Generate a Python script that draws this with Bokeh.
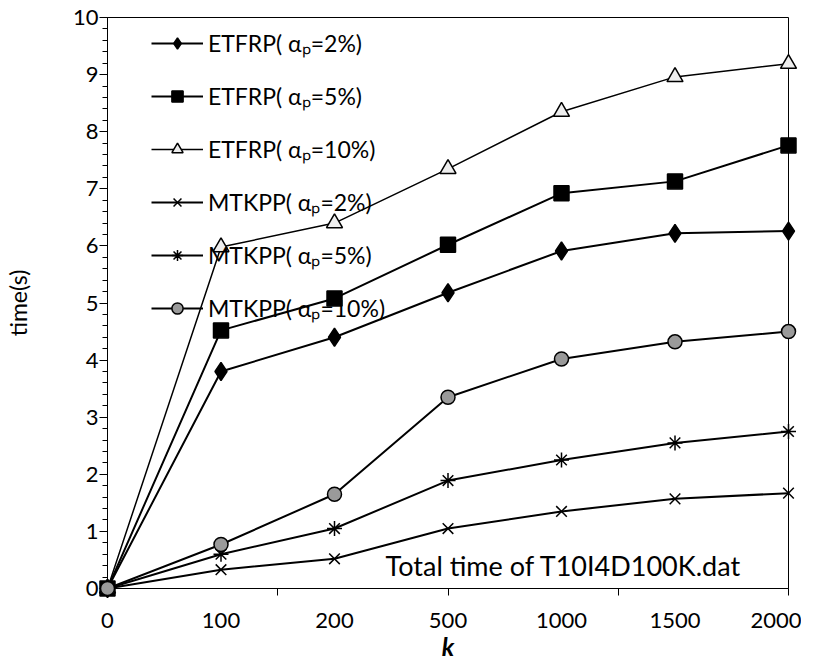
from bokeh.plotting import figure
from bokeh.models import Range1d, FixedTicker, Legend, LegendItem, Label
from bokeh.embed import file_html
from bokeh.resources import INLINE

# ---- data ----
k_labels = ["0", "100", "200", "500", "1000", "1500", "2000"]
etfrp_2 = [0, 3.80, 4.40, 5.18, 5.91, 6.22, 6.26]
etfrp_5 = [0, 4.52, 5.08, 6.02, 6.92, 7.13, 7.76]
etfrp_10 = [0, 5.98, 6.40, 7.35, 8.35, 8.96, 9.19]
mtkpp_2 = [0, 0.33, 0.52, 1.05, 1.35, 1.57, 1.67]
mtkpp_5 = [0, 0.60, 1.05, 1.89, 2.25, 2.55, 2.75]
mtkpp_10 = [0, 0.77, 1.65, 3.35, 4.02, 4.32, 4.50]
series_names = ["ETFRP( \u03b1\u209a=2%)", "ETFRP( \u03b1\u209a=5%)", "ETFRP( \u03b1\u209a=10%)",
                "MTKPP( \u03b1\u209a=2%)", "MTKPP( \u03b1\u209a=5%)", "MTKPP( \u03b1\u209a=10%)"]
y_ticks = list(range(0, 11))

x = list(range(len(k_labels)))
FONT = "Lato"

p = figure(width=801, height=663, output_backend="svg", toolbar_location=None,
           x_range=Range1d(x[0], x[-1]), y_range=Range1d(0, 10),
           min_border_left=101, min_border_right=13, min_border_top=17, min_border_bottom=75)
p.background_fill_color = "white"
p.border_fill_color = "white"
p.outline_line_color = "black"
p.outline_line_width = 1
p.xgrid.grid_line_color = None
p.ygrid.grid_line_color = None

styles = [
    dict(marker="diamond", size=18, fill_color="black", lw=2.0),
    dict(marker="square", size=15, fill_color="black", lw=2.0),
    dict(marker="triangle", size=16, fill_color="#eeeeee", lw=1.5),
    dict(marker="x", size=15, fill_color="black", lw=2.0),
    dict(marker="asterisk", size=15, fill_color="black", lw=2.0),
    dict(marker="circle", size=14, fill_color="#9a9a9a", lw=2.0),
]
data = [etfrp_2, etfrp_5, etfrp_10, mtkpp_2, mtkpp_5, mtkpp_10]

items = []
for name, vals, st in zip(series_names, data, styles):
    ln = p.line(x, vals, line_color="black", line_width=st["lw"])
    sc = p.scatter(x, vals, marker=st["marker"], size=st["size"],
                   fill_color=st["fill_color"], line_color="black", line_width=1.5)
    sc.level = "overlay"
    items.append(LegendItem(label=name, renderers=[ln, sc]))

legend = Legend(items=items, location=(44, 264), border_line_color=None,
                background_fill_alpha=0, padding=0, margin=0,
                glyph_width=52, glyph_height=28, label_height=28, spacing=21,
                label_standoff=5, label_text_font=FONT, label_text_font_size="23px",
                label_text_color="black")
p.add_layout(legend)

p.add_layout(Label(x=2.45, y=0.40, text="Total time of T10I4D100K.dat",
                   text_font=FONT, text_font_size="27px", text_color="black",
                   text_baseline="alphabetic"))

# x axis
xa = p.xaxis[0]
xa.ticker = FixedTicker(ticks=x, minor_ticks=[0, 1.5, 3, 4.5, 6])
xa.major_label_overrides = {i: lbl for i, lbl in zip(x, k_labels)}
xa.major_tick_line_color = None
xa.major_tick_out = 0
xa.minor_tick_in = 0
xa.minor_tick_out = 7
xa.minor_tick_line_color = "black"
xa.major_label_standoff = 17
xa.major_label_text_font = FONT
xa.major_label_text_font_size = "22px"
xa.major_label_text_color = "black"
xa.axis_line_color = "black"
xa.axis_label = "k"
xa.axis_label_text_font = FONT
xa.axis_label_text_font_size = "25px"
xa.axis_label_text_font_style = "bold italic"
xa.axis_label_text_color = "black"
xa.axis_label_standoff = 0

ya = p.yaxis[0]
ya.ticker = FixedTicker(ticks=y_ticks, minor_ticks=[i / 5 for i in range(0, 51)])
ya.major_tick_in = 0
ya.major_tick_out = 8
ya.minor_tick_in = 0
ya.minor_tick_out = 5
ya.major_tick_line_color = "black"
ya.minor_tick_line_color = "black"
ya.major_label_standoff = 1
ya.major_label_text_font = FONT
ya.major_label_text_font_size = "22px"
ya.major_label_text_color = "black"
ya.axis_label = "time(s)"
ya.axis_label_text_font = FONT
ya.axis_label_text_font_style = "normal"
ya.axis_label_text_font_size = "23px"
ya.axis_label_text_color = "black"
ya.axis_label_standoff = 38
ya.axis_line_color = "black"

open("out.html", "w").write(file_html(p, INLINE))
